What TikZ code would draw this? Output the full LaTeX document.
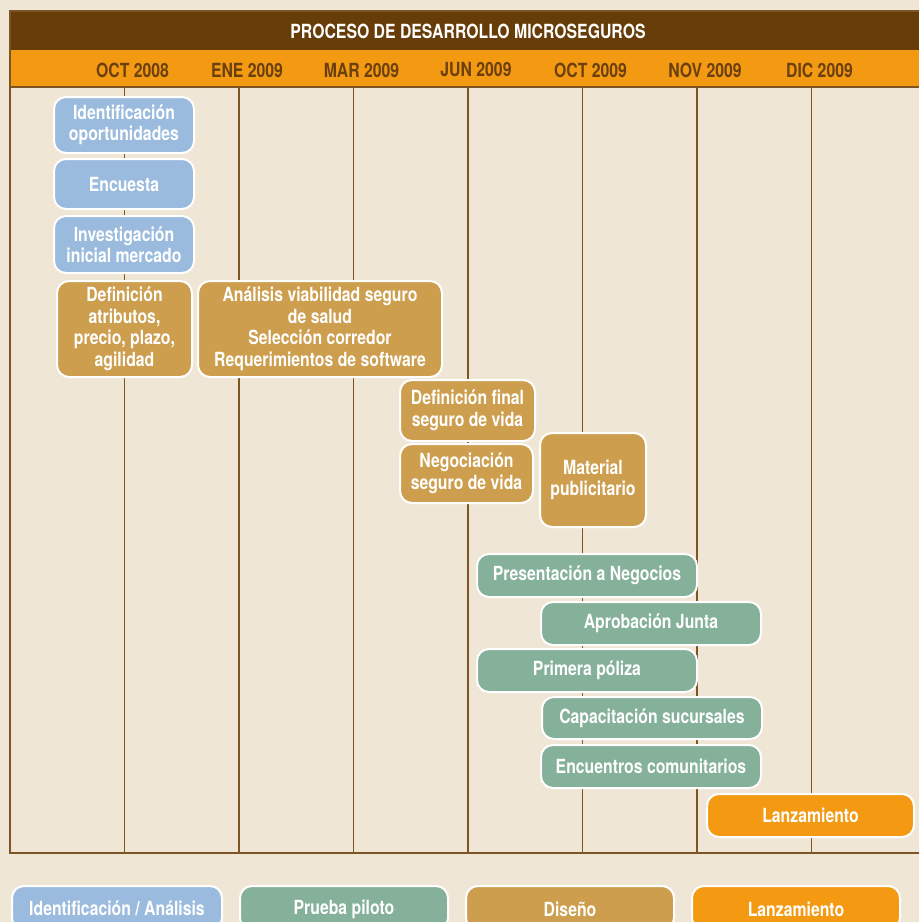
\documentclass[tikz,border=0pt]{standalone}
\usepackage{fontspec}
\setmainfont{TeX Gyre Heros}[FakeStretch=0.81]
\usetikzlibrary{positioning}
\definecolor{fondo}{RGB}{239,230,214}
\definecolor{cafe}{RGB}{102,60,8}
\definecolor{naranja}{RGB}{243,154,18}
\definecolor{mestexto}{RGB}{107,64,14}
\definecolor{linea}{RGB}{125,85,37}
\definecolor{azul}{RGB}{154,187,221}
\definecolor{verde}{RGB}{133,177,154}
\definecolor{tostado}{RGB}{205,158,78}

\begin{document}
\begin{tikzpicture}[x=1pt, y=-1pt,
        % Estilo de las cajas
        tarea/.style={rectangle, rounded corners=12pt, draw=white, line width=2pt, text=white,
                      font=\fontsize{19.5}{21.5}\selectfont\bfseries, align=center, inner sep=2pt},
        ident/.style={tarea, fill=azul},
        piloto/.style={tarea, fill=verde},
        diseno/.style={tarea, fill=tostado},
        lanza/.style={tarea, fill=naranja},
        % Estilo de la cabecera
        mes/.style={text=mestexto, font=\fontsize{19.5}{21}\selectfont\bfseries},
        titulo/.style={text=white, font=\fontsize{19.5}{21}\selectfont\bfseries},
        guia/.style={draw=linea, line width=1.3pt}
    ]
    \clip (0,0) rectangle (919,922);
    \fill[fondo] (0,0) rectangle (919,922);

    % --- CABECERA ---
    \fill[cafe] (10,11) rectangle (930,50);
    \fill[naranja] (10,50) rectangle (930,87);
    \node[titulo] (tit) at (468,31) {PROCESO DE DESARROLLO MICROSEGUROS};
    \foreach \x/\m [count=\i] in {124.5/OCT 2008, 239/ENE 2009, 353.5/MAR 2009, 468/JUN 2009,
                                  582.5/OCT 2009, 697/NOV 2009, 811.5/DIC 2009}
        \node[mes] (mes\i) at (\x+8,70) {\m};

    % --- CUADRICULA ---
    \draw[guia] (10,11) rectangle (930,853);
    \draw[guia] (10,87) -- (930,87);
    \foreach \x in {124.5,239,353.5,468,582.5,697,811.5}
        \draw[guia] (\x,87) -- (\x,853);

    % --- IDENTIFICACION / ANALISIS ---
    \node[ident, minimum width=140, minimum height=56] (idop) at (124,125) {Identificación\\oportunidades};
    \node[ident, minimum width=140, minimum height=50] (encu) at (124,184) {Encuesta};
    \node[ident, minimum width=140, minimum height=57] (inve) at (124,244.5) {Investigación\\inicial mercado};

    % --- DISENO ---
    \node[diseno, minimum width=135, minimum height=96] (defa) at (124.5,329) {Definición\\atributos,\\precio, plazo,\\agilidad};
    \node[diseno, minimum width=244, minimum height=96] (anal) at (320,329) {Análisis viabilidad seguro\\de salud\\Selección corredor\\Requerimientos de software};
    \node[diseno, minimum width=135, minimum height=61] (deff) at (467.5,410.5) {Definición final\\seguro de vida};
    \node[diseno, minimum width=133, minimum height=59] (nego) at (466.5,473.5) {Negociación\\seguro de vida};
    \node[diseno, minimum width=106, minimum height=94] (mate) at (593,480) {Material\\publicitario};

    % --- PRUEBA PILOTO ---
    \node[piloto, minimum width=220, minimum height=43] (pres) at (587,575.5) {Presentación a Negocios};
    \node[piloto, minimum width=220, minimum height=43] (apro) at (651,623.5) {Aprobación Junta};
    \node[piloto, minimum width=220, minimum height=43] (prim) at (587,670.5) {Primera póliza};
    \node[piloto, minimum width=220, minimum height=42] (capa) at (652,718) {Capacitación sucursales};
    \node[piloto, minimum width=220, minimum height=43] (enco) at (651,766.5) {Encuentros comunitarios};

    % --- LANZAMIENTO ---
    \node[lanza, minimum width=207, minimum height=43] (lanz) at (810.5,815.5) {Lanzamiento};

    % --- LEYENDA ---
    \node[ident, minimum width=210, minimum height=44] (ley1) at (117,908) {Identificación / Análisis};
    \node[piloto, minimum width=208, minimum height=44] (ley2) at (344,908) {Prueba piloto\vphantom{Á}};
    \node[diseno, minimum width=208, minimum height=44] (ley3) at (570,908) {Diseño\vphantom{Á}};
    \node[lanza, minimum width=208, minimum height=44] (ley4) at (796,908) {Lanzamiento\vphantom{Á}};
\end{tikzpicture}
\end{document}
